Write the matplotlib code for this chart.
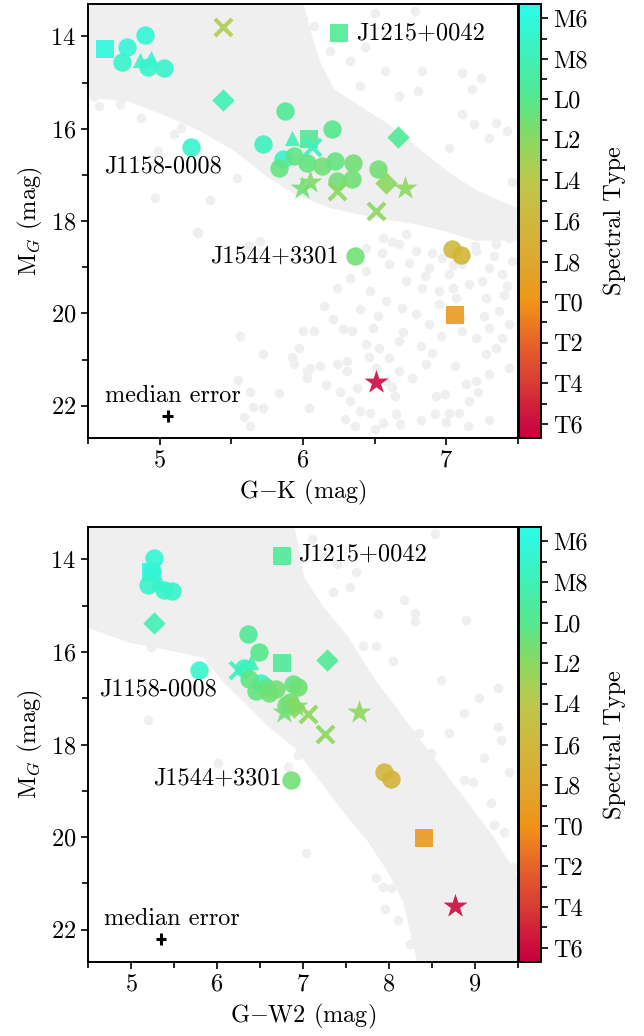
import numpy as np
import matplotlib
matplotlib.use("Agg")
import matplotlib.pyplot as plt
from matplotlib.colors import LinearSegmentedColormap, Normalize
from matplotlib.cm import ScalarMappable
from matplotlib.ticker import MultipleLocator

plt.rcParams["font.family"] = "serif"
plt.rcParams["font.serif"] = ["cmr10", "DejaVu Serif"]
plt.rcParams["mathtext.fontset"] = "cm"
plt.rcParams["axes.unicode_minus"] = False
plt.rcParams["axes.formatter.use_mathtext"] = True
FS = 17.5

# spectral type code: M0=10, L0=20, T0=30
spt = [16.0, 16.5, 16.5, 17.0, 17.0, 17.0, 17.0, 17.0, 23.5, 18.0,
       17.0, 19.5, 20.0, 19.5, 19.5, 17.5, 18.0, 17.5, 17.0,
       20.5, 20.5, 20.5, 21.0, 20.5, 21.0, 21.0, 21.0, 21.0,
       22.0, 21.0, 21.5, 22.0, 22.0, 22.0, 21.0, 26.0, 26.5, 29.5, 36.0, 19.5]
mg = [14.28, 13.96, 14.24, 14.56, 14.52, 14.46, 14.67, 14.69, 13.80, 15.38,
      16.40, 15.62, 16.01, 16.23, 16.18, 16.34, 16.21, 16.40, 16.66,
      16.85, 16.59, 16.75, 16.81, 16.70, 16.75, 16.88, 17.14, 17.09,
      17.18, 17.29, 17.16, 17.29, 17.35, 17.78, 18.76, 18.60, 18.74, 20.03, 21.48, 13.92]
g_k = [4.62, 4.90, 4.77, 4.74, 4.86, 4.94, 4.92, 5.03, 5.44, 5.44,
       5.22, 5.875, 6.20, 6.04, 6.66, 5.72, 5.92, 6.06, 5.86,
       5.83, 5.94, 6.03, 6.13, 6.22, 6.35, 6.52, 6.24, 6.34,
       6.58, 5.99, 6.05, 6.71, 6.24, 6.51, 6.36, 7.04, 7.10, 7.06, 6.51, 6.25]
g_w2 = [5.23, 5.27, 5.25, 5.20, 5.30, 5.33, 5.38, 5.48, np.nan, 5.27,
        5.79, 6.36, 6.49, 6.76, 7.28, 6.31, 6.40, 6.24, 6.51,
        6.45, 6.37, 6.57, 6.69, 6.88, 6.94, 6.60, 6.80, 6.85,
        6.90, 6.78, 6.92, 7.65, 7.06, 7.26, 6.86, 7.94, 8.02, 8.41, 8.77, 6.76]
markers = ["s", "o", "o", "o", "^", "^", "o", "o", "x", "D",
           "o", "o", "o", "s", "D", "o", "^", "x", "o",
           "o", "o", "o", "o", "o", "o", "o", "o", "o",
           "D", "*", "*", "*", "x", "x", "o", "o", "o", "s", "*", "s"]

labels = ["J1158-0008", "J1544+3301", "J1215+0042"]
label_gk = [(5.02, 16.81), (5.80, 18.76), (6.82, 13.94)]
label_gw2 = [(5.31, 16.81), (6.00, 18.74), (7.69, 13.89)]

# median error bars (x, y, xerr, yerr) and text position
err_gk = (5.055, 22.22, 0.04, 0.13)
err_gw2 = (5.35, 22.20, 0.06, 0.13)
err_text_gk = (5.09, 21.78)
err_text_gw2 = (5.47, 21.77)

# grey field population: dense core outline + sparser points
core_gk_x = [4.51, 5.98, 6.03, 6.10, 6.20, 6.40, 6.60, 6.80, 7.00, 7.20, 7.49,
             7.49, 7.20, 7.00, 6.80, 6.50, 6.20, 5.95, 5.75, 5.55, 5.30, 5.05, 4.80, 4.51]
core_gk_y = [13.33, 13.33, 13.90, 14.60, 15.20, 15.60, 16.00, 16.50, 17.00, 17.40, 17.80,
             18.35, 18.35, 18.15, 18.00, 17.85, 17.65, 17.35, 16.95, 16.45, 16.00, 15.65, 15.35, 15.25]
field_gk_x = [5.27, 5.62, 5.70, 5.56, 5.72, 5.97, 5.92, 5.94, 6.00, 5.55, 5.63, 5.83, 5.65,
              5.72, 5.59, 5.63, 6.03, 6.03, 6.04, 4.97, 5.35, 5.26, 6.08, 6.05, 6.12, 6.21,
              6.28, 6.34, 6.24, 6.31, 6.31, 6.38, 6.33, 6.40, 6.29, 6.47, 6.56, 6.65, 6.64,
              6.67, 6.76, 6.86, 6.93, 6.99, 6.92, 7.02, 7.09, 7.16, 7.21, 7.30, 7.14, 7.28,
              7.35, 7.44, 7.39, 7.30, 7.21, 7.11, 6.47, 6.58, 6.69, 6.79, 6.88, 6.49, 6.44,
              6.53, 6.60, 6.67, 6.51, 6.58, 6.24, 6.33, 6.44, 6.60, 6.72, 6.83, 6.95, 7.07,
              7.16, 7.28, 7.37, 7.44, 7.30, 7.39, 7.46, 7.21, 7.35, 7.44, 7.02, 7.11, 6.97,
              6.88, 6.79, 6.67, 6.56, 6.72, 6.44, 6.00, 6.08, 6.50, 6.78, 6.80, 6.83, 7.11,
              7.18, 7.24, 7.35, 7.11, 7.19, 7.42, 7.30, 7.02, 6.19, 6.33, 6.43, 6.57, 6.40,
              6.67, 4.54, 4.58, 4.72, 4.87, 5.10, 5.15, 4.99, 5.54,
              6.55, 6.62, 6.74, 6.90, 7.05, 7.20, 7.33, 7.42, 6.85, 6.95, 7.05, 7.25, 7.40,
              6.40, 6.52, 6.70, 6.82, 6.96, 7.10, 7.26, 6.46, 6.62, 6.76, 6.90, 7.06, 7.22,
              6.16, 6.26, 6.36, 6.50, 6.68, 6.82, 7.00, 7.15, 7.30, 6.15, 6.86, 7.00, 7.46]
field_gk_y = [18.26, 18.54, 18.43, 20.49, 20.88, 20.75, 20.94, 21.09, 20.38, 21.44, 21.70,
              21.72, 22.02, 22.04, 22.24, 22.43, 21.24, 21.39, 22.06, 17.50, 17.55, 18.24,
              20.38, 21.18, 21.14, 20.12, 20.34, 20.38, 21.09, 21.03, 21.24, 21.61, 21.89,
              22.11, 22.28, 22.15, 22.37, 22.17, 21.78, 20.59, 21.39, 21.09, 21.78, 21.74,
              22.17, 22.15, 22.15, 21.89, 21.46, 21.31, 21.52, 20.88, 20.75, 21.18, 20.53,
              20.31, 20.53, 20.38, 19.51, 19.73, 19.88, 20.01, 20.23, 20.31, 20.66, 20.75,
              20.96, 21.24, 21.18, 21.46, 19.45, 19.23, 19.08, 18.93, 19.30, 19.45, 19.51,
              19.66, 19.36, 19.66, 19.95, 20.23, 19.02, 19.15, 18.86, 18.65, 18.50, 18.37,
              19.15, 18.93, 18.80, 19.02, 18.65, 18.50, 18.37, 18.28, 18.58, 13.61, 13.78,
              13.50, 13.46, 15.19, 14.76, 14.80, 15.15, 14.91, 15.88, 15.69, 15.90, 16.05,
              16.21, 16.42, 14.32, 14.54, 14.22, 14.76, 15.08, 15.30, 15.30, 15.51, 15.47,
              15.77, 16.12, 15.99, 16.49, 17.07,
              18.70, 18.45, 18.90, 18.70, 18.95, 18.55, 18.75, 19.40, 19.20, 19.80, 19.45,
              19.30, 19.60, 19.90, 20.05, 20.40, 20.70, 20.50, 20.10, 20.05, 20.95, 21.60,
              21.40, 20.85, 21.15, 21.70, 21.55, 21.70, 22.45, 22.50, 22.40, 22.30, 22.35,
              22.45, 22.30, 19.85, 17.10, 17.60, 17.15]

core_gw2_x = [4.51, 6.86, 6.98, 7.21, 7.50, 7.79, 8.14, 8.49, 8.84, 9.19, 9.48, 9.51,
              8.37, 8.20, 8.02, 7.79, 7.50, 7.19, 6.92, 6.63, 6.34, 6.10, 5.87, 5.47, 5.00, 4.51]
core_gw2_y = [13.29, 13.29, 14.43, 15.08, 15.73, 16.60, 17.46, 18.33, 19.19, 20.06, 20.93, 22.70,
              22.70, 21.36, 20.71, 20.06, 19.41, 18.65, 18.00, 17.57, 17.03, 16.60, 16.06, 15.90, 15.73, 15.41]
field_gw2_x = [5.23, 5.20, 6.01, 6.94, 6.83, 7.03, 7.42, 7.62, 7.67, 7.79, 7.85, 7.93, 8.02,
               7.91, 8.14, 9.19, 8.87, 8.98, 9.22, 9.34, 9.44, 8.53, 8.17, 8.30, 8.30, 7.87,
               8.90, 7.35, 7.62, 7.70, 7.85, 7.77, 9.27, 9.27, 9.30, 8.87, 8.70, 8.35, 8.49,
               7.10, 7.25, 7.40, 7.55, 8.05, 8.60, 9.05, 9.40, 8.10, 7.95, 8.25, 9.10]
field_gw2_y = [15.90, 17.46, 18.39, 18.22, 18.48, 20.34, 18.91, 19.48, 19.04, 19.48, 20.88,
               21.08, 21.10, 20.23, 20.43, 19.26, 18.76, 18.81, 19.74, 19.89, 20.64, 13.46,
               14.87, 15.15, 15.34, 15.17, 15.30, 14.71, 14.28, 15.88, 15.88, 16.75, 16.78,
               17.62, 17.90, 17.31, 17.75, 17.75, 18.18,
               13.55, 13.95, 14.10, 14.60, 16.20, 16.60, 17.00, 18.60, 21.80, 21.55, 22.30, 18.30]

sp_ticks = [16, 18, 20, 22, 24, 26, 28, 30, 32, 34, 36]
sp_labels = ["M6", "M8", "L0", "L2", "L4", "L6", "L8", "T0", "T2", "T4", "T6"]

cmap = LinearSegmentedColormap.from_list("sptype", [
    (0.0, "#2afbe6"), (0.033, "#2ff8e0"), (0.126, "#40f0b4"), (0.22, "#55e88c"),
    (0.313, "#8cd860"), (0.406, "#bcc84c"), (0.5, "#d0b83c"), (0.593, "#dea830"),
    (0.687, "#f09418"), (0.78, "#e66428"), (0.874, "#d83c34"), (0.967, "#cc0c40"),
    (1.0, "#c8003e")])
norm = Normalize(15.3, 36.7)

fig = plt.figure(figsize=(6.44, 10.36), dpi=100)
ax1 = fig.add_axes([0.1366, 0.5772, 0.6677, 0.4189])
ax2 = fig.add_axes([0.1366, 0.0714, 0.6677, 0.4199])
cax1 = fig.add_axes([0.8059, 0.5772, 0.0342, 0.4189])
cax2 = fig.add_axes([0.8059, 0.0714, 0.0342, 0.4199])

grey = "#efefef"
panels = [
    (ax1, g_k, core_gk_x, core_gk_y, field_gk_x, field_gk_y, label_gk, err_gk,
     err_text_gk, (4.5, 7.5), r"G$-$K (mag)"),
    (ax2, g_w2, core_gw2_x, core_gw2_y, field_gw2_x, field_gw2_y, label_gw2, err_gw2,
     err_text_gw2, (4.5, 9.5), r"G$-$W2 (mag)"),
]

for ax, xs, cx, cy, fx, fy, lab_pos, err, etxt, xlim, xlabel in panels:
    ax.fill(cx, cy, color=grey, lw=5, ec=grey, zorder=0)
    ax.scatter(fx, fy, s=48, color=grey, lw=0, zorder=0.5)
    for x, y, t, m in zip(xs, mg, spt, markers):
        if np.isnan(x):
            continue
        c = cmap(norm(t))
        if m == "x":
            ax.scatter(x, y, s=150, marker="x", color=c, linewidths=3, alpha=0.9, zorder=2)
        elif m == "*":
            ax.scatter(x, y, s=330, marker="*", color=c, lw=0, alpha=0.9, zorder=2)
        elif m == "D":
            ax.scatter(x, y, s=130, marker="D", color=c, lw=0, alpha=0.9, zorder=2)
        elif m == "^":
            ax.scatter(x, y, s=120, marker="^", color=c, lw=0, alpha=0.9, zorder=1.8)
        else:
            ax.scatter(x, y, s=175, marker=m, color=c, lw=0, alpha=0.9, zorder=2)
    for name, (tx, ty) in zip(labels, lab_pos):
        ax.text(tx, ty, name, ha="center", va="center", fontsize=FS, zorder=3)
    ex, ey, dx, dy = err
    ax.errorbar(ex, ey, xerr=dx, yerr=dy, fmt="none", ecolor="k", elinewidth=2.2, capsize=0)
    ax.text(etxt[0], etxt[1], "median error", ha="center", va="center", fontsize=FS)
    ax.set_xlim(*xlim)
    ax.set_ylim(22.7, 13.3)
    ax.xaxis.set_major_locator(MultipleLocator(1))
    ax.xaxis.set_minor_locator(MultipleLocator(0.5))
    ax.yaxis.set_major_locator(MultipleLocator(2))
    ax.yaxis.set_minor_locator(MultipleLocator(1))
    ax.tick_params(which="both", direction="out", labelsize=FS, width=1.2)
    ax.tick_params(which="major", length=5)
    ax.tick_params(which="minor", length=4)
    for sp in ax.spines.values():
        sp.set_linewidth(1.4)
    ax.set_xlabel(xlabel, fontsize=FS, labelpad=4)
    ax.set_ylabel(r"M$_G$ (mag)", fontsize=FS, labelpad=4)

for cax in (cax1, cax2):
    sm = ScalarMappable(norm=norm, cmap=cmap)
    cb = fig.colorbar(sm, cax=cax)
    cb.set_ticks(sp_ticks)
    cb.set_ticklabels(sp_labels)
    cb.ax.yaxis.set_minor_locator(MultipleLocator(1))
    cb.ax.invert_yaxis()
    cb.ax.tick_params(which="both", direction="out", labelsize=FS, width=1.2)
    cb.ax.tick_params(which="major", length=5)
    cb.ax.tick_params(which="minor", length=4)
    cb.outline.set_linewidth(1.4)
    cb.set_label("Spectral Type", fontsize=FS, labelpad=12)

fig.savefig("out.png", dpi=100)
